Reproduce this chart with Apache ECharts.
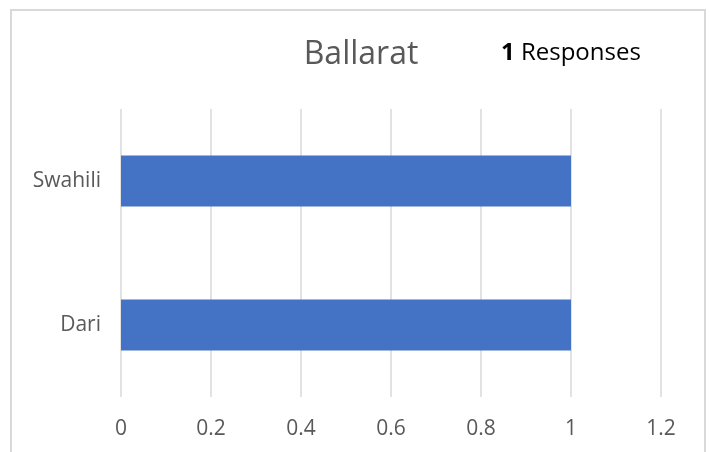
<!DOCTYPE html>
<html>
<head>
<meta charset="utf-8">
<script src="https://cdn.jsdelivr.net/npm/echarts@6/dist/echarts.min.js"></script>
<style>
  html, body { margin: 0; padding: 0; background: #fff; }
  #chart { width: 710px; height: 452px; }
</style>
</head>
<body>
<div id="chart"></div>
<script>
// Languages reported at Ballarat, bottom to top
const categories = ['Dari', 'Swahili'];
const responses = [1, 1];
const totalResponses = 1;
const chartTitle = 'Ballarat';
const xTicks = [0, 0.2, 0.4, 0.6, 0.8, 1, 1.2];

const FONT = '"Open Sans", sans-serif';

const chart = echarts.init(document.getElementById('chart'), null, { renderer: 'canvas' });

chart.setOption({
  animation: false,
  backgroundColor: '#ffffff',
  graphic: [
    {
      type: 'rect',
      shape: { x: 11, y: 10, width: 694, height: 460 },
      style: { fill: 'none', stroke: '#d9d9d9', lineWidth: 2 },
      silent: true,
      z: -1
    },
    {
      type: 'text',
      x: 361,
      y: 55,
      style: {
        text: chartTitle,
        fill: '#595959',
        font: '32px ' + FONT,
        align: 'center',
        verticalAlign: 'middle'
      }
    },
    {
      type: 'text',
      x: 501,
      y: 53,
      style: {
        text: '{b|' + totalResponses + '} Responses',
        fill: '#000000',
        font: '24px ' + FONT,
        align: 'left',
        verticalAlign: 'middle',
        rich: {
          b: { fontWeight: 'bold', fontSize: 24, fontFamily: FONT, fill: '#000000' }
        }
      }
    }
  ],
  grid: { left: 121, right: 49, top: 109, bottom: 55, containLabel: false },
  xAxis: {
    type: 'value',
    min: xTicks[0],
    max: xTicks[xTicks.length - 1],
    interval: xTicks[1] - xTicks[0],
    axisLine: { show: false },
    axisTick: { show: false },
    axisLabel: {
      color: '#595959',
      fontSize: 21,
      fontFamily: FONT,
      margin: 22,
      formatter: v => String(Math.round(v * 10) / 10)
    },
    splitLine: { show: true, lineStyle: { color: '#d9d9d9', width: 1.5 } }
  },
  yAxis: {
    type: 'category',
    data: categories,
    axisLine: { show: false },
    axisTick: { show: false },
    axisLabel: { color: '#595959', fontSize: 21, fontFamily: FONT, margin: 20 }
  },
  series: [{
    type: 'bar',
    data: responses,
    barWidth: 51,
    itemStyle: { color: '#4472c4' }
  }]
});
</script>
</body>
</html>
